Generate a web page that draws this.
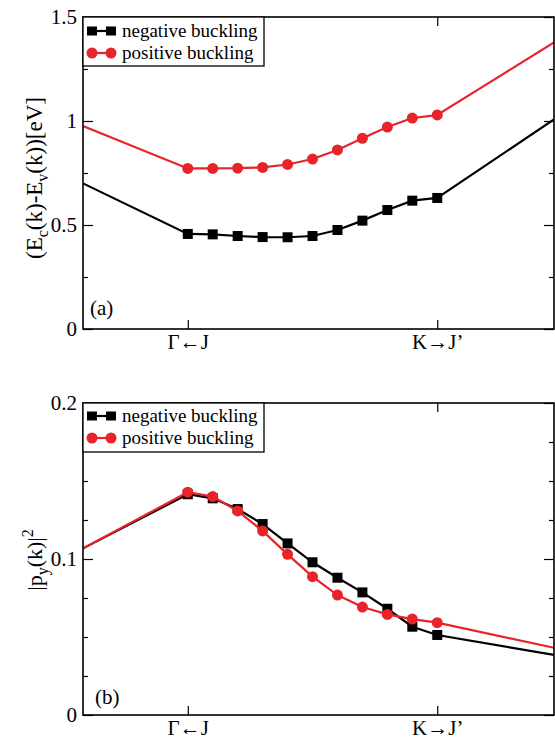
<!DOCTYPE html>
<html>
<head>
<meta charset="utf-8">
<script src="https://cdn.jsdelivr.net/npm/d3@7"></script>
<style>
  body { margin: 0; background: #fff; }
  svg { display: block; font-family: "Liberation Serif", "Times New Roman", serif; }
</style>
</head>
<body>
<script>
const { select, scaleLinear, axisLeft, axisRight, axisBottom, axisTop, line, range } = d3;

// k positions (0 = Γ←J, 1 = K→J'), plus where lines leave the frame
const kPoints = [0, 0.1, 0.2, 0.3, 0.4, 0.5, 0.6, 0.7, 0.8, 0.9, 1.0];
const kEnds = [-0.42, 1.468];
const kTicks = [0, 1];
const kLabels = ["Γ←J", "K→J’"];

// (a) gap Ec - Ev [eV]
const gapNeg = [0.457, 0.455, 0.447, 0.442, 0.441, 0.447, 0.476, 0.521, 0.572, 0.617, 0.630];
const gapNegEnds = [0.70, 1.008];
const gapPos = [0.772, 0.772, 0.773, 0.777, 0.791, 0.817, 0.861, 0.917, 0.971, 1.014, 1.029];
const gapPosEnds = [0.976, 1.378];

// (b) |py(k)|^2
const pyNeg = [0.1415, 0.1389, 0.132, 0.1224, 0.110, 0.0979, 0.088, 0.0786, 0.0681, 0.0566, 0.0513];
const pyNegEnds = [0.1068, 0.0385];
const pyPos = [0.1428, 0.140, 0.1308, 0.118, 0.103, 0.0887, 0.0769, 0.0692, 0.0645, 0.0615, 0.0592];
const pyPosEnds = [0.1068, 0.0431];

const seriesNames = ["negative buckling", "positive buckling"];
const RED = "#e8232a";

const W = 555, H = 739;
const svg = select("body").append("svg").attr("width", W).attr("height", H);

const xScale = scaleLinear().domain([kEnds[0], kEnds[1]]).range([83, 554]);

function toPts(vals, ends) {
  const pts = [[kEnds[0], ends[0]]];
  kPoints.forEach((k, i) => pts.push([k, vals[i]]));
  pts.push([kEnds[1], ends[1]]);
  return pts;
}

function panel(opts) {
  const { top, bottom, yMax, major, minor, fmt, neg, negEnds, pos, posEnds, tag, ylabel, ylabelY, legendY } = opts;
  const y = scaleLinear().domain([0, yMax]).range([bottom, top]);
  const g = svg.append("g");
  const x0 = xScale.range()[0], x1 = xScale.range()[1];

  const clipId = "clip" + top;
  svg.append("clipPath").attr("id", clipId)
    .append("rect").attr("x", x0).attr("y", top).attr("width", x1 - x0).attr("height", bottom - top);

  const plot = g.append("g").attr("clip-path", `url(#${clipId})`);
  const ln = line().x(d => xScale(d[0])).y(d => y(d[1]));

  const negPts = toPts(neg, negEnds);
  const posPts = toPts(pos, posEnds);

  plot.append("path").attr("d", ln(negPts)).attr("fill", "none").attr("stroke", "#000").attr("stroke-width", 2.2);
  plot.selectAll("rect.sq").data(negPts.slice(1, -1)).join("rect").attr("class", "sq")
    .attr("x", d => xScale(d[0]) - 5).attr("y", d => y(d[1]) - 5)
    .attr("width", 10).attr("height", 10).attr("fill", "#000");

  plot.append("path").attr("d", ln(posPts)).attr("fill", "none").attr("stroke", RED).attr("stroke-width", 2.2);
  plot.selectAll("circle").data(posPts.slice(1, -1)).join("circle")
    .attr("cx", d => xScale(d[0])).attr("cy", d => y(d[1])).attr("r", 5.5).attr("fill", RED);

  // inward ticks on all sides
  const majorVals = range(0, yMax + 1e-9, major);
  const minorVals = range(0, yMax + 1e-9, minor).filter(v => Math.abs(v / major - Math.round(v / major)) > 1e-6);

  g.append("g").attr("transform", `translate(${x0},0)`)
    .call(axisLeft(y).tickValues(majorVals).tickSize(-10).tickPadding(6).tickFormat(fmt));
  g.append("g").attr("transform", `translate(${x0},0)`)
    .call(axisLeft(y).tickValues(minorVals).tickSize(-5).tickFormat(""));
  g.append("g").attr("transform", `translate(${x1},0)`)
    .call(axisRight(y).tickValues(majorVals).tickSize(-10).tickFormat(""));
  g.append("g").attr("transform", `translate(${x1},0)`)
    .call(axisRight(y).tickValues(minorVals).tickSize(-5).tickFormat(""));
  g.append("g").attr("transform", `translate(0,${bottom})`)
    .call(axisBottom(xScale).tickValues(kTicks).tickSize(-9).tickPadding(5).tickFormat((d, i) => kLabels[i]));
  g.append("g").attr("transform", `translate(0,${top})`)
    .call(axisTop(xScale).tickValues(kTicks).tickSize(-9).tickFormat(""));

  g.selectAll(".domain").remove();
  g.selectAll(".tick line").attr("stroke", "#000").attr("stroke-width", 1.2);
  g.selectAll(".tick text").attr("font-family", "Liberation Serif, Times New Roman, serif")
    .attr("font-size", 21).attr("fill", "#000");

  g.append("rect").attr("x", x0).attr("y", top).attr("width", x1 - x0).attr("height", bottom - top)
    .attr("fill", "none").attr("stroke", "#000").attr("stroke-width", 1.6);

  // legend
  const lg = g.append("g");
  lg.append("rect").attr("x", x0).attr("y", top).attr("width", 181).attr("height", legendY.h)
    .attr("fill", "#fff").attr("stroke", "#000").attr("stroke-width", 1.3);
  const rows = [legendY.r1, legendY.r2];
  rows.forEach((ry, i) => {
    const col = i === 0 ? "#000" : RED;
    lg.append("line").attr("x1", x0 + 9).attr("x2", x0 + 28).attr("y1", ry).attr("y2", ry)
      .attr("stroke", col).attr("stroke-width", 2.2);
    [x0 + 9, x0 + 28].forEach(cx => {
      if (i === 0) lg.append("rect").attr("x", cx - 5).attr("y", ry - 4.5).attr("width", 10).attr("height", 9).attr("fill", col);
      else lg.append("circle").attr("cx", cx).attr("cy", ry).attr("r", 5.5).attr("fill", col);
    });
    lg.append("text").attr("x", x0 + 39).attr("y", ry + 6).attr("font-size", 19).text(seriesNames[i]);
  });

  g.append("text").attr("x", tag.x).attr("y", tag.y).attr("font-size", 21).text(tag.t);

  const yl = g.append("text").attr("transform", `translate(42,${ylabelY}) rotate(-90)`)
    .attr("text-anchor", "middle").attr("font-size", opts.ylabelSize);
  ylabel.forEach(p => {
    const t = yl.append("tspan").text(p.t);
    if (p.dy) t.attr("dy", p.dy);
    if (p.fs) t.attr("font-size", p.fs);
  });
}

panel({
  top: 17, bottom: 329, yMax: 1.5, major: 0.5, minor: 0.25,
  fmt: d3.format("~g"),
  neg: gapNeg, negEnds: gapNegEnds, pos: gapPos, posEnds: gapPosEnds,
  tag: { x: 90, y: 315, t: "(a)" },
  ylabelY: 178, ylabelSize: 23,
  ylabel: [
    { t: "(E" }, { t: "c", dy: 6, fs: 16 }, { t: "(k)-E", dy: -6 }, { t: "v", dy: 6, fs: 16 }, { t: "(k))[eV]", dy: -6 }
  ],
  legendY: { h: 49, r1: 31, r2: 53 }
});

panel({
  top: 403, bottom: 715, yMax: 0.2, major: 0.1, minor: 0.025,
  fmt: d3.format("~g"),
  neg: pyNeg, negEnds: pyNegEnds, pos: pyPos, posEnds: pyPosEnds,
  tag: { x: 95, y: 704, t: "(b)" },
  ylabelY: 560, ylabelSize: 22,
  ylabel: [
    { t: "|p" }, { t: "y", dy: 6, fs: 16 }, { t: "(k)|", dy: -6 }, { t: "2", dy: -9, fs: 16 }
  ],
  legendY: { h: 49, r1: 416, r2: 438 }
});
</script>
</body>
</html>
